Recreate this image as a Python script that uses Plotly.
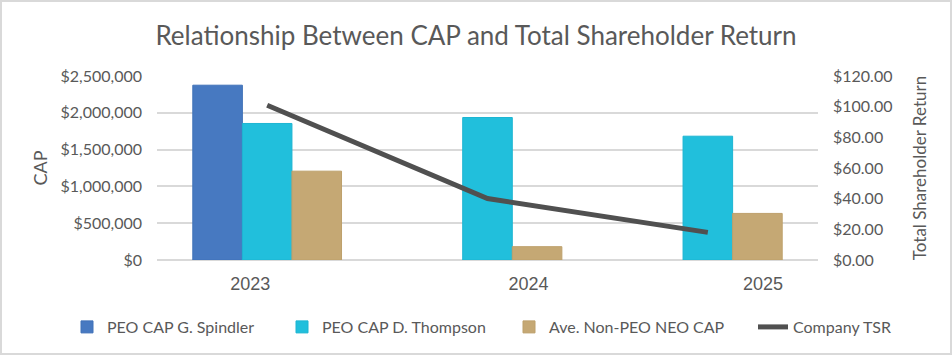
import plotly.graph_objects as go

# ---- data ----
years = ["2023", "2024", "2025"]
peo_spindler = [2375000, None, None]
peo_thompson = [1855000, 1936000, 1682000]
non_peo_neo = [1207000, 181000, 633000]
company_tsr = [100.9, 40.1, 18.0]

# ---- style / layout constants ----
W, H = 952, 355
ML, MR, MT, MB = 157, 134, 76, 95
label_offsets = [-0.077, 0.186, 0.25]  # tick-label shifts (category units)
grey = "#595959"
font_main = "Lato"

xpos = list(range(len(years)))

fig = go.Figure()
fig.add_trace(go.Bar(x=xpos, y=peo_spindler, name="PEO CAP G. Spindler",
                     legend="legend",
                     marker=dict(color="#4779C1", line=dict(color="#4072B8", width=1))))
fig.add_trace(go.Bar(x=xpos, y=peo_thompson, name="PEO CAP D. Thompson",
                     legend="legend",
                     marker=dict(color="#21BFDC", line=dict(color="#1DB5D2", width=1))))
fig.add_trace(go.Bar(x=xpos, y=non_peo_neo, name="Ave. Non-PEO NEO CAP",
                     legend="legend2",
                     marker=dict(color="#C5A874", line=dict(color="#BDA06B", width=1))))
fig.add_trace(go.Scatter(x=xpos, y=company_tsr, name="Company TSR", yaxis="y2",
                         legend="legend2",
                         mode="lines", line=dict(color="#505050", width=5)))

pw = W - ML - MR
ph = H - MT - MB

legend_common = dict(orientation="h", xref="container", yref="container",
                     xanchor="left", y=1 - 327 / H, yanchor="middle",
                     font=dict(size=16, color=grey, family=font_main),
                     itemwidth=30, traceorder="normal",
                     entrywidthmode="pixels", bgcolor="rgba(0,0,0,0)")

fig.update_layout(
    width=W, height=H,
    margin=dict(l=ML, r=MR, t=MT, b=MB, autoexpand=False),
    paper_bgcolor="white", plot_bgcolor="white",
    barmode="group", bargap=0.325, bargroupgap=0,
    font=dict(family=font_main, color=grey, size=16),
    title=dict(text="Relationship Between CAP and Total Shareholder Return",
               x=0.5, xanchor="center", xref="container",
               y=1 - 36 / H, yanchor="middle", yref="container",
               font=dict(size=26, color=grey, family=font_main),
               automargin=False),
    xaxis=dict(range=[-0.5, len(years) - 0.5], automargin=False,
               tickvals=[p + o for p, o in zip(xpos, label_offsets)],
               ticktext=years, showgrid=False, zeroline=False,
               showline=False, ticks="",
               tickfont=dict(family="Liberation Sans", size=18, color=grey),
               ticklabelstandoff=11),
    yaxis=dict(range=[0, 2500000], dtick=500000, tickprefix="$", automargin=False,
               tickformat=",.0f", showgrid=True, gridcolor="#D9D9D9",
               gridwidth=1.5, zeroline=True, zerolinecolor="#D9D9D9",
               zerolinewidth=1.5, showline=False, ticks="",
               ticklabelstandoff=14,
               tickfont=dict(size=16, color=grey),
               title=dict(text="CAP", font=dict(size=18, color=grey), standoff=8)),
    yaxis2=dict(range=[0, 120], dtick=20, tickprefix="$", tickformat=".2f",
                overlaying="y", side="right", showgrid=False, zeroline=False,
                automargin=False,
                showline=False, ticks="", ticklabelstandoff=14,
                tickfont=dict(size=16, color=grey),
                title=dict(text="Total Shareholder Return",
                           font=dict(size=17, color=grey), standoff=22)),
    legend=dict(legend_common, x=67 / W, entrywidth=170),
    legend2=dict(legend_common, x=509 / W, entrywidth=199),
    shapes=[dict(type="rect", xref="paper", yref="paper",
                 x0=-(ML - 1) / pw, x1=1 + (MR - 1) / pw,
                 y0=-(MB - 1) / ph, y1=1 + (MT - 1) / ph,
                 line=dict(color="#D9D9D9", width=2), fillcolor="rgba(0,0,0,0)",
                 layer="below")],
)

fig.write_html("out.html", config={"displayModeBar": False},
               post_script="document.body.style.margin='0';")
